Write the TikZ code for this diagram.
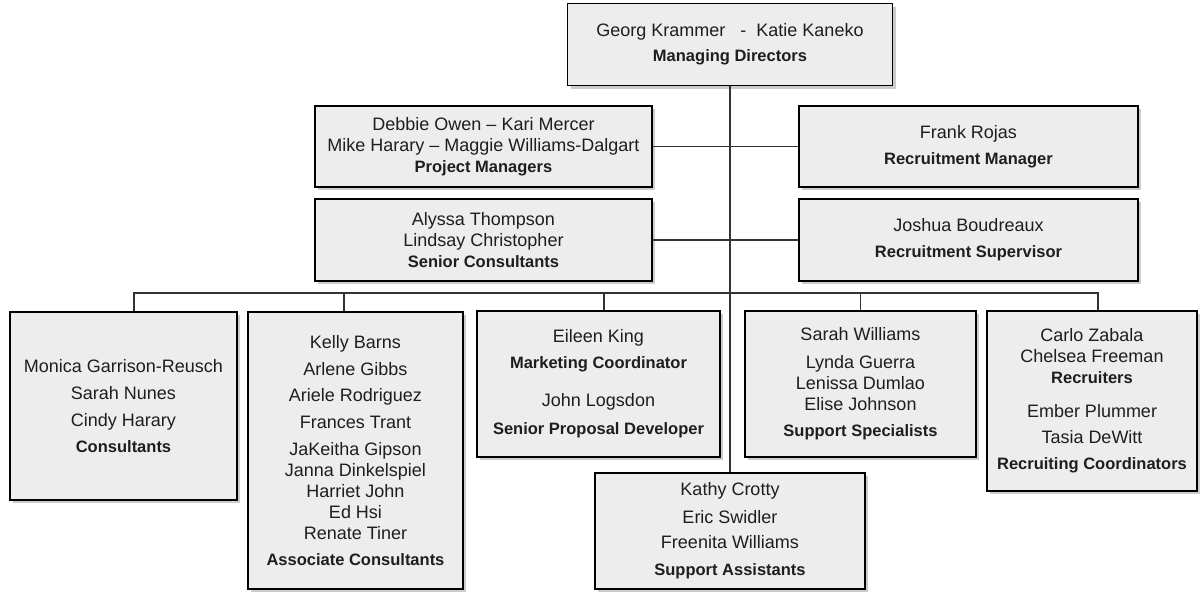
\documentclass[tikz,border=0pt]{standalone}
\usepackage{fontspec}
\setmainfont{Liberation Sans}
\usetikzlibrary{shadows}
\definecolor{boxfill}{RGB}{237,237,237}
\definecolor{inkgray}{RGB}{30,30,30}
\newcommand{\jobtitle}[1]{{\fontsize{16.5}{21}\selectfont\bfseries #1}}

\begin{document}
\begin{tikzpicture}[x=1pt, y=-1pt,
    every node/.style={font=\fontsize{18}{21}\selectfont, text=inkgray},
    orgbox/.style={draw=black, line width=1.3pt, fill=boxfill, align=center, inner sep=0pt,
        drop shadow={shadow xshift=3pt, shadow yshift=-3pt, opacity=0.4}},
    wire/.style={draw=black!80, line width=1.1pt}]

    \useasboundingbox (0,0) rectangle (1204,592);

    % Managing directors at the top
    \node[orgbox, minimum width=325pt, minimum height=82pt] (md) at (730,44.5)
        {Georg Krammer \ \ - \ Katie Kaneko\\[4pt] \jobtitle{Managing Directors}};

    % Second and third rows
    \node[orgbox, minimum width=337pt, minimum height=81pt] (pm) at (483.5,146.5)
        {Debbie Owen -- Kari Mercer\\ Mike Harary -- Maggie Williams-Dalgart\\ \jobtitle{Project Managers}};
    \node[orgbox, minimum width=339pt, minimum height=81pt] (rm) at (968.5,146.5)
        {Frank Rojas\\[5pt] \jobtitle{Recruitment Manager}};
    \node[orgbox, minimum width=337pt, minimum height=82pt] (sc) at (483.5,240)
        {Alyssa Thompson\\ Lindsay Christopher\\ \jobtitle{Senior Consultants}};
    \node[orgbox, minimum width=339pt, minimum height=82pt] (rs) at (968.5,240)
        {Joshua Boudreaux\\[5pt] \jobtitle{Recruitment Supervisor}};

    % Bottom row of teams
    \node[orgbox, minimum width=227pt, minimum height=188pt] (con) at (123.5,406)
        {Monica Garrison-Reusch\\[6pt] Sarah Nunes\\[6pt] Cindy Harary\\[5pt] \jobtitle{Consultants}};
    \node[orgbox, minimum width=215pt, minimum height=277pt] (ac) at (355.5,450.5)
        {Kelly Barns\\[6pt] Arlene Gibbs\\[5pt] Ariele Rodriguez\\[6pt] Frances Trant\\[6pt]
         JaKeitha Gipson\\ Janna Dinkelspiel\\ Harriet John\\ Ed Hsi\\ Renate Tiner\\[5pt]
         \jobtitle{Associate Consultants}};
    \node[orgbox, minimum width=243pt, minimum height=146pt] (mc) at (598.5,384)
        {Eileen King\\[5pt] \jobtitle{Marketing Coordinator}\\[17pt] John Logsdon\\[7pt]
         \jobtitle{Senior Proposal Developer}};
    \node[orgbox, minimum width=231pt, minimum height=146pt] (ss) at (860.5,384)
        {Sarah Williams\\[7pt] Lynda Guerra\\ Lenissa Dumlao\\ Elise Johnson\\[5pt]
         \jobtitle{Support Specialists}};
    \node[orgbox, minimum width=210pt, minimum height=180pt] (rc) at (1092,401)
        {Carlo Zabala\\ Chelsea Freeman\\ \jobtitle{Recruiters}\\[13pt] Ember Plummer\\[5pt]
         Tasia DeWitt\\[5pt] \jobtitle{Recruiting Coordinators}};
    \node[orgbox, minimum width=270pt, minimum height=116pt] (sa) at (730,531)
        {Kathy Crotty\\[7pt] Eric Swidler\\[4pt] Freenita Williams\\[6pt] \jobtitle{Support Assistants}};

    % Connectors
    \coordinate (bus) at (730,293);
    \draw[wire] (md.south) -- (sa.north);
    \draw[wire] (pm.east) -- (rm.west);
    \draw[wire] (sc.east) -- (rs.west);
    \draw[wire] ([xshift=10.5pt]con.north) |- (bus) -| ([xshift=6pt]rc.north);
    \foreach \team/\dx in {ac/-11.5, mc/5.5, ss/0} {
        \draw[wire] ([xshift=\dx pt]\team.north) -- ([xshift=\dx pt]\team.north |- bus);
    }

\end{tikzpicture}
\end{document}
